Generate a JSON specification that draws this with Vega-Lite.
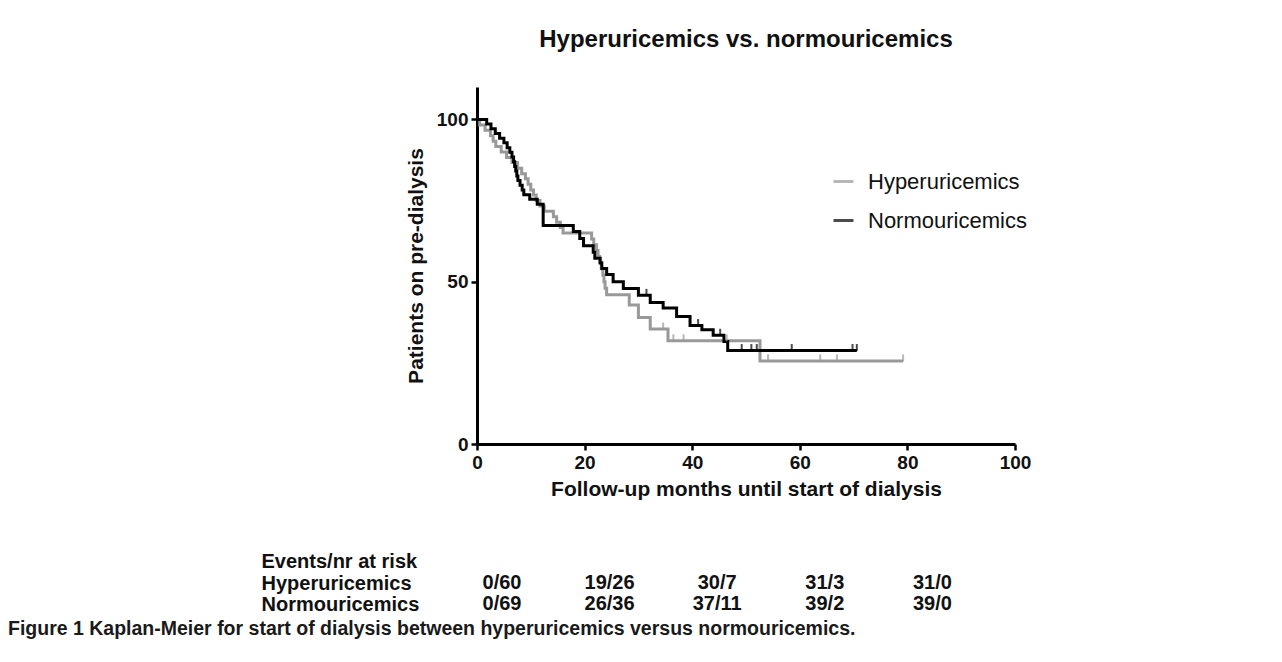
{
  "$schema": "https://vega.github.io/schema/vega-lite/v6.json",
  "padding": {"left": 8, "top": 28, "right": 5, "bottom": 5},
  "background": "white",
  "title": {
    "text": "Figure 1 Kaplan-Meier for start of dialysis between hyperuricemics versus normouricemics.",
    "orient": "bottom",
    "anchor": "start",
    "frame": "bounds",
    "dx": -253,
    "offset": 5,
    "font": "Liberation Sans",
    "fontSize": 19.5,
    "fontWeight": "bold",
    "color": "#1a1a1a"
  },
  "datasets": {
    "km": [
      {"group": "Hyperuricemics", "t": 0, "s": 100},
      {"group": "Hyperuricemics", "t": 0.5, "s": 98.3},
      {"group": "Hyperuricemics", "t": 1.5, "s": 96.7},
      {"group": "Hyperuricemics", "t": 2.5, "s": 95},
      {"group": "Hyperuricemics", "t": 3, "s": 93.3},
      {"group": "Hyperuricemics", "t": 3.5, "s": 91.7},
      {"group": "Hyperuricemics", "t": 4.5, "s": 90},
      {"group": "Hyperuricemics", "t": 5.5, "s": 88.3},
      {"group": "Hyperuricemics", "t": 6.5, "s": 86.7},
      {"group": "Hyperuricemics", "t": 7.5, "s": 85},
      {"group": "Hyperuricemics", "t": 8.3, "s": 83.3},
      {"group": "Hyperuricemics", "t": 9, "s": 81.7},
      {"group": "Hyperuricemics", "t": 9.5, "s": 80},
      {"group": "Hyperuricemics", "t": 10, "s": 78.3},
      {"group": "Hyperuricemics", "t": 10.5, "s": 76.7},
      {"group": "Hyperuricemics", "t": 11, "s": 75},
      {"group": "Hyperuricemics", "t": 11.7, "s": 73.3},
      {"group": "Hyperuricemics", "t": 12.5, "s": 71.7},
      {"group": "Hyperuricemics", "t": 14.2, "s": 70},
      {"group": "Hyperuricemics", "t": 14.8, "s": 68.3},
      {"group": "Hyperuricemics", "t": 15.5, "s": 66.7},
      {"group": "Hyperuricemics", "t": 16, "s": 65},
      {"group": "Hyperuricemics", "t": 21.3, "s": 63.2},
      {"group": "Hyperuricemics", "t": 21.7, "s": 61.4},
      {"group": "Hyperuricemics", "t": 22.2, "s": 59.6},
      {"group": "Hyperuricemics", "t": 22.5, "s": 57.8},
      {"group": "Hyperuricemics", "t": 22.8, "s": 56},
      {"group": "Hyperuricemics", "t": 23.1, "s": 54},
      {"group": "Hyperuricemics", "t": 23.4, "s": 52},
      {"group": "Hyperuricemics", "t": 23.6, "s": 50},
      {"group": "Hyperuricemics", "t": 23.8, "s": 48},
      {"group": "Hyperuricemics", "t": 24.1, "s": 46},
      {"group": "Hyperuricemics", "t": 28.3, "s": 42.8},
      {"group": "Hyperuricemics", "t": 30, "s": 39},
      {"group": "Hyperuricemics", "t": 32.2, "s": 35.4},
      {"group": "Hyperuricemics", "t": 35.5, "s": 31.8},
      {"group": "Hyperuricemics", "t": 52.6, "s": 25.6},
      {"group": "Hyperuricemics", "t": 79.2, "s": 25.6},
      {"group": "Normouricemics", "t": 0, "s": 100},
      {"group": "Normouricemics", "t": 1.8, "s": 98.6},
      {"group": "Normouricemics", "t": 2.6, "s": 97.1},
      {"group": "Normouricemics", "t": 3.4, "s": 95.7},
      {"group": "Normouricemics", "t": 4.2, "s": 94.2},
      {"group": "Normouricemics", "t": 5, "s": 92.8},
      {"group": "Normouricemics", "t": 5.6, "s": 91.3},
      {"group": "Normouricemics", "t": 6.1, "s": 89.9},
      {"group": "Normouricemics", "t": 6.5, "s": 88.4},
      {"group": "Normouricemics", "t": 6.8, "s": 87},
      {"group": "Normouricemics", "t": 7, "s": 85.5},
      {"group": "Normouricemics", "t": 7.2, "s": 84.1},
      {"group": "Normouricemics", "t": 7.4, "s": 82.6},
      {"group": "Normouricemics", "t": 7.6, "s": 81.2},
      {"group": "Normouricemics", "t": 8, "s": 79.7},
      {"group": "Normouricemics", "t": 8.4, "s": 78.3},
      {"group": "Normouricemics", "t": 8.7, "s": 76.8},
      {"group": "Normouricemics", "t": 9.8, "s": 75.4},
      {"group": "Normouricemics", "t": 11.2, "s": 73.9},
      {"group": "Normouricemics", "t": 12.3, "s": 67.3},
      {"group": "Normouricemics", "t": 17.9, "s": 65.5},
      {"group": "Normouricemics", "t": 19.1, "s": 63.3},
      {"group": "Normouricemics", "t": 19.8, "s": 61.1},
      {"group": "Normouricemics", "t": 21.6, "s": 59.1},
      {"group": "Normouricemics", "t": 21.9, "s": 57.2},
      {"group": "Normouricemics", "t": 22.9, "s": 55.8},
      {"group": "Normouricemics", "t": 23.2, "s": 54.1},
      {"group": "Normouricemics", "t": 24.1, "s": 52.2},
      {"group": "Normouricemics", "t": 25.3, "s": 50},
      {"group": "Normouricemics", "t": 27.2, "s": 47.9},
      {"group": "Normouricemics", "t": 30, "s": 45.8},
      {"group": "Normouricemics", "t": 32.2, "s": 43.6},
      {"group": "Normouricemics", "t": 34.6, "s": 41.9},
      {"group": "Normouricemics", "t": 37.1, "s": 39.3},
      {"group": "Normouricemics", "t": 39.6, "s": 36.5},
      {"group": "Normouricemics", "t": 41.8, "s": 35.2},
      {"group": "Normouricemics", "t": 43.9, "s": 33.5},
      {"group": "Normouricemics", "t": 45.9, "s": 31.6},
      {"group": "Normouricemics", "t": 46.6, "s": 28.8},
      {"group": "Normouricemics", "t": 70.6, "s": 28.8}
    ],
    "cens": [
      {"group": "Hyperuricemics", "t": 34.6, "s": 35.4},
      {"group": "Hyperuricemics", "t": 36.5, "s": 31.8},
      {"group": "Hyperuricemics", "t": 38.4, "s": 31.8},
      {"group": "Hyperuricemics", "t": 46.4, "s": 31.8},
      {"group": "Hyperuricemics", "t": 54.1, "s": 25.6},
      {"group": "Hyperuricemics", "t": 63.8, "s": 25.6},
      {"group": "Hyperuricemics", "t": 66.9, "s": 25.6},
      {"group": "Hyperuricemics", "t": 79.2, "s": 25.6},
      {"group": "Normouricemics", "t": 31.5, "s": 45.8},
      {"group": "Normouricemics", "t": 41.1, "s": 36.5},
      {"group": "Normouricemics", "t": 45.2, "s": 33.5},
      {"group": "Normouricemics", "t": 49.2, "s": 28.8},
      {"group": "Normouricemics", "t": 51, "s": 28.8},
      {"group": "Normouricemics", "t": 52, "s": 28.8},
      {"group": "Normouricemics", "t": 58.5, "s": 28.8},
      {"group": "Normouricemics", "t": 69.8, "s": 28.8},
      {"group": "Normouricemics", "t": 70.6, "s": 28.8}
    ],
    "risk": [
      {"row": "Hyperuricemics", "t": 0, "value": "0/60"},
      {"row": "Hyperuricemics", "t": 20, "value": "19/26"},
      {"row": "Hyperuricemics", "t": 40, "value": "30/7"},
      {"row": "Hyperuricemics", "t": 60, "value": "31/3"},
      {"row": "Hyperuricemics", "t": 80, "value": "31/0"},
      {"row": "Normouricemics", "t": 0, "value": "0/69"},
      {"row": "Normouricemics", "t": 20, "value": "26/36"},
      {"row": "Normouricemics", "t": 40, "value": "37/11"},
      {"row": "Normouricemics", "t": 60, "value": "39/2"},
      {"row": "Normouricemics", "t": 80, "value": "39/0"}
    ]
  },
  "vconcat": [
    {
      "width": 538,
      "height": 357,
      "title": {
        "text": "Hyperuricemics vs. normouricemics",
        "anchor": "middle",
        "offset": 35,
        "font": "Liberation Sans",
        "fontSize": 24,
        "fontWeight": "bold",
        "color": "#111111"
      },
      "layer": [
        {
          "data": {"name": "km"},
          "mark": {"type": "line", "interpolate": "step-after", "strokeWidth": 3},
          "encoding": {
            "x": {
              "field": "t", "type": "quantitative",
              "scale": {"domain": [0, 100], "nice": false},
              "axis": {"values": [0, 20, 40, 60, 80, 100], "title": "Follow-up months until start of dialysis"}
            },
            "y": {
              "field": "s", "type": "quantitative",
              "scale": {"domain": [0, 110], "nice": false},
              "axis": {"values": [0, 50, 100], "title": "Patients on pre-dialysis"}
            },
            "color": {
              "field": "group", "type": "nominal",
              "scale": {"domain": ["Hyperuricemics", "Normouricemics"], "range": ["#999999", "#000000"]},
              "legend": {
                "title": null,
                "orient": "none",
                "legendX": 355,
                "legendY": 83,
                "padding": 0,
                "symbolType": "stroke",
                "symbolSize": 400,
                "symbolStrokeWidth": 3,
                "labelFontSize": 22,
                "labelFont": "Liberation Sans",
                "labelColor": "#111111",
                "labelOffset": 13,
                "rowPadding": 16
              }
            }
          }
        },
        {
          "data": {"name": "cens"},
          "mark": {"type": "tick", "orient": "vertical", "size": 7, "thickness": 2, "yOffset": -3},
          "encoding": {
            "x": {"field": "t", "type": "quantitative"},
            "y": {"field": "s", "type": "quantitative"},
            "color": {"field": "group", "type": "nominal"}
          }
        }
      ]
    },
    {
      "width": 538,
      "height": 64,
      "data": {"name": "risk"},
      "mark": {"type": "text", "align": "center", "dx": 25, "font": "Liberation Sans", "fontSize": 20, "fontWeight": "bold", "color": "#111111"},
      "encoding": {
        "x": {"field": "t", "type": "quantitative", "scale": {"domain": [0, 100], "nice": false}, "axis": null},
        "y": {
          "field": "row", "type": "nominal",
          "scale": {"domain": ["Events/nr at risk", "Hyperuricemics", "Normouricemics"]},
          "axis": {
            "title": null, "domain": false, "ticks": false, "tickSize": 0,
            "labelAlign": "left", "labelPadding": 216, "labelLimit": 0,
            "labelFont": "Liberation Sans",
            "labelFontSize": 20, "labelFontWeight": "bold", "labelColor": "#111111"
          }
        },
        "text": {"field": "value", "type": "nominal"}
      }
    }
  ],
  "spacing": 52,
  "config": {
    "view": {"stroke": null},
    "axis": {
      "grid": false,
      "domainColor": "#000000",
      "domainWidth": 3,
      "tickColor": "#000000",
      "tickWidth": 2.5,
      "tickSize": 6,
      "labelFont": "Liberation Sans",
      "labelFontSize": 19,
      "labelFontWeight": "bold",
      "labelColor": "#111111",
      "labelPadding": 3,
      "titleFont": "Liberation Sans",
      "titleFontSize": 21,
      "titleFontWeight": "bold",
      "titleColor": "#111111"
    },
    "axisX": {"titlePadding": 6, "labelFlush": false},
    "axisY": {"titlePadding": 10}
  }
}
